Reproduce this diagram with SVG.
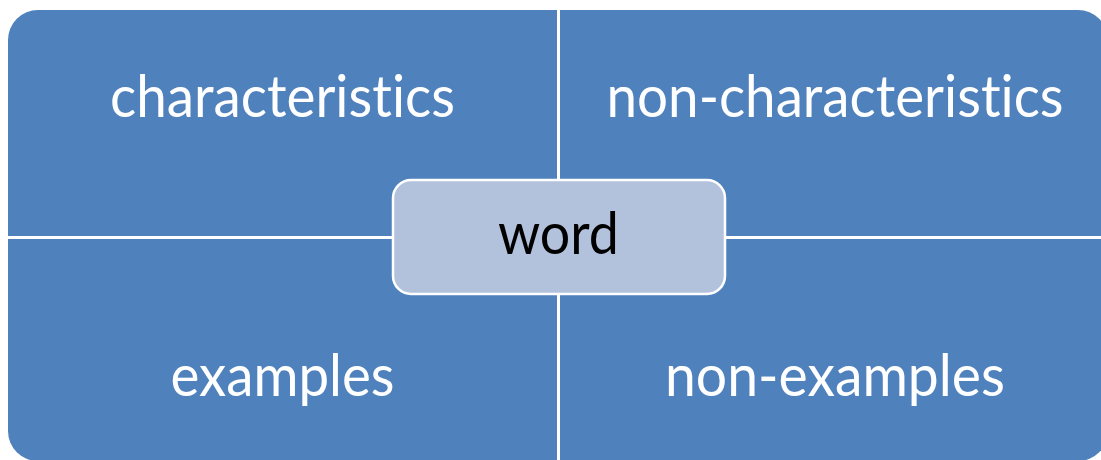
<svg xmlns="http://www.w3.org/2000/svg" width="1101" height="460" viewBox="0 0 1101 460">
<style>
.q{fill:#4F81BD;}
.lbl{font-family:Lato,"Liberation Sans",sans-serif;font-size:59px;fill:#FFFFFF;text-anchor:middle;font-variant-ligatures:none;font-feature-settings:"liga" 0,"clig" 0;}
.ctr{fill:#B3C2DC;stroke:#FFFFFF;stroke-width:2.5;}
.ctrt{font-family:Lato,"Liberation Sans",sans-serif;font-size:59px;fill:#000000;text-anchor:middle;font-variant-ligatures:none;}
</style>
<rect width="1101" height="460" fill="#FFFFFF"/>
<g id="characteristics">
<path class="q" d="M8,40 A30,30 0 0 1 38,10 L557,10 L557,236 L8,236 Z"/>
<text class="lbl" x="282.5" y="117" textLength="345" lengthAdjust="spacingAndGlyphs">characteristics</text>
</g>
<g id="non-characteristics">
<path class="q" d="M560,10 L1078,10 A30,30 0 0 1 1108,40 L1108,236 L560,236 Z"/>
<text class="lbl" x="835" y="117" textLength="457" lengthAdjust="spacingAndGlyphs">non-characteristics</text>
</g>
<g id="examples">
<path class="q" d="M8,239 L557,239 L557,461 L38,461 A30,30 0 0 1 8,431 Z"/>
<text class="lbl" x="282.5" y="396" textLength="224" lengthAdjust="spacingAndGlyphs">examples</text>
</g>
<g id="non-examples">
<path class="q" d="M560,239 L1108,239 L1108,431 A30,30 0 0 1 1078,461 L560,461 Z"/>
<text class="lbl" x="835" y="396" textLength="340" lengthAdjust="spacingAndGlyphs">non-examples</text>
</g>
<g id="connectors"></g>
<g id="word">
<rect class="ctr" x="393" y="180" width="332" height="114" rx="18" ry="18"/>
<text class="ctrt" x="558.5" y="254" textLength="121" lengthAdjust="spacingAndGlyphs">word</text>
</g>
</svg>
